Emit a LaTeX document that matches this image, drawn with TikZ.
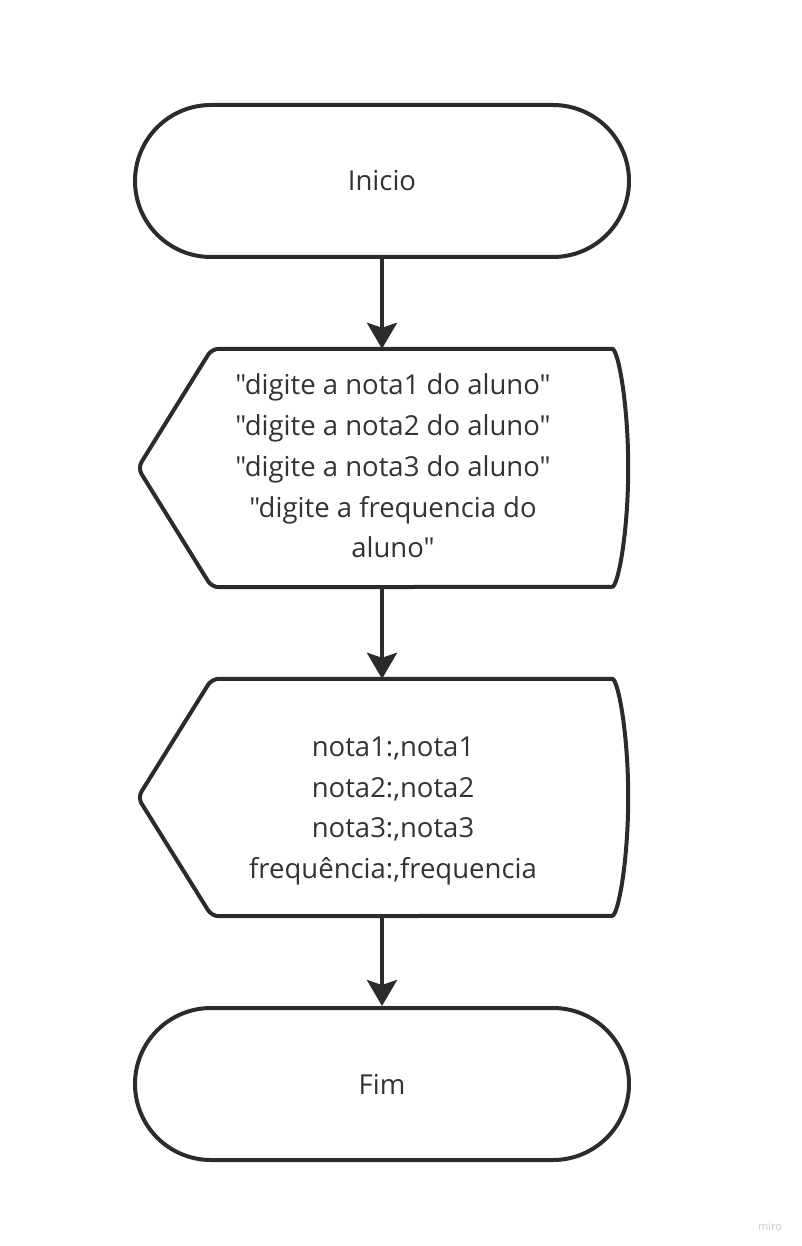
\documentclass[tikz,border=0pt]{standalone}
\usepackage{fontspec}
\setmainfont{Open Sans}[Ligatures=TeXOff]
\usetikzlibrary{shapes.misc,arrows.meta}
\definecolor{linecol}{HTML}{2B2B2B}
\definecolor{txtcol}{HTML}{333333}
\definecolor{wmcol}{HTML}{C9CAD2}
\begin{document}
\begin{tikzpicture}[x=1pt,y=-1pt,
  shapeline/.style={draw=linecol,line width=4pt,line join=round},
  terminal/.style={rounded rectangle,shapeline,minimum width=494pt,minimum height=152pt,inner sep=0pt,
     font=\fontsize{27.5pt}{40.7pt}\selectfont,text=txtcol},
  dispbox/.style={minimum width=490pt,minimum height=#1,inner sep=0pt,draw=none},
  txt/.style={align=center,font=\fontsize{27.5pt}{40.7pt}\selectfont,text=txtcol,inner sep=0pt},
  flow/.style={draw=linecol,line width=4pt,-{Stealth[length=26pt,width=30pt,inset=5pt]}}]
\path[fill=white] (0,0) rectangle (801,1246);
\useasboundingbox (0,0) rectangle (801,1246);

\node[terminal] (inicio) at (382,181) {Inicio};

\node[dispbox=238pt] (entrada) at (383,468) {};
\draw[shapeline,rounded corners=7pt] ([xshift=74pt]entrada.north west) -- ([xshift=-23pt]entrada.north east)
  arc[start angle=90,end angle=-90,x radius=23pt,y radius=119pt]
  -- ([xshift=74pt]entrada.south west) -- (entrada.west) -- cycle;
\node[txt] (entradatxt) at (393,466) {"digite a nota1 do aluno"\\"digite a nota2 do aluno"\\"digite a nota3 do aluno"\\"digite a frequencia do\\aluno"};

\node[dispbox=237pt] (saida) at (383,797.5) {};
\draw[shapeline,rounded corners=7pt] ([xshift=74pt]saida.north west) -- ([xshift=-23pt]saida.north east)
  arc[start angle=90,end angle=-90,x radius=23pt,y radius=118.5pt]
  -- ([xshift=74pt]saida.south west) -- (saida.west) -- cycle;
\node[txt] (saidatxt) at (393,811) {nota1:,nota1\\nota2:,nota2\\nota3:,nota3\\frequência:,frequencia};

\node[terminal] (fim) at (382,1084) {Fim};

\draw[flow] (inicio.south) -- (entrada.north -| inicio.south);
\draw[flow] (entrada.south -| inicio.south) -- (saida.north -| inicio.south);
\draw[flow] (saida.south -| inicio.south) -- (fim.north);

\node[font=\fontsize{11pt}{13pt}\selectfont,text=wmcol,inner sep=0pt] (wm) at (770,1227) {miro};
\end{tikzpicture}
\end{document}
